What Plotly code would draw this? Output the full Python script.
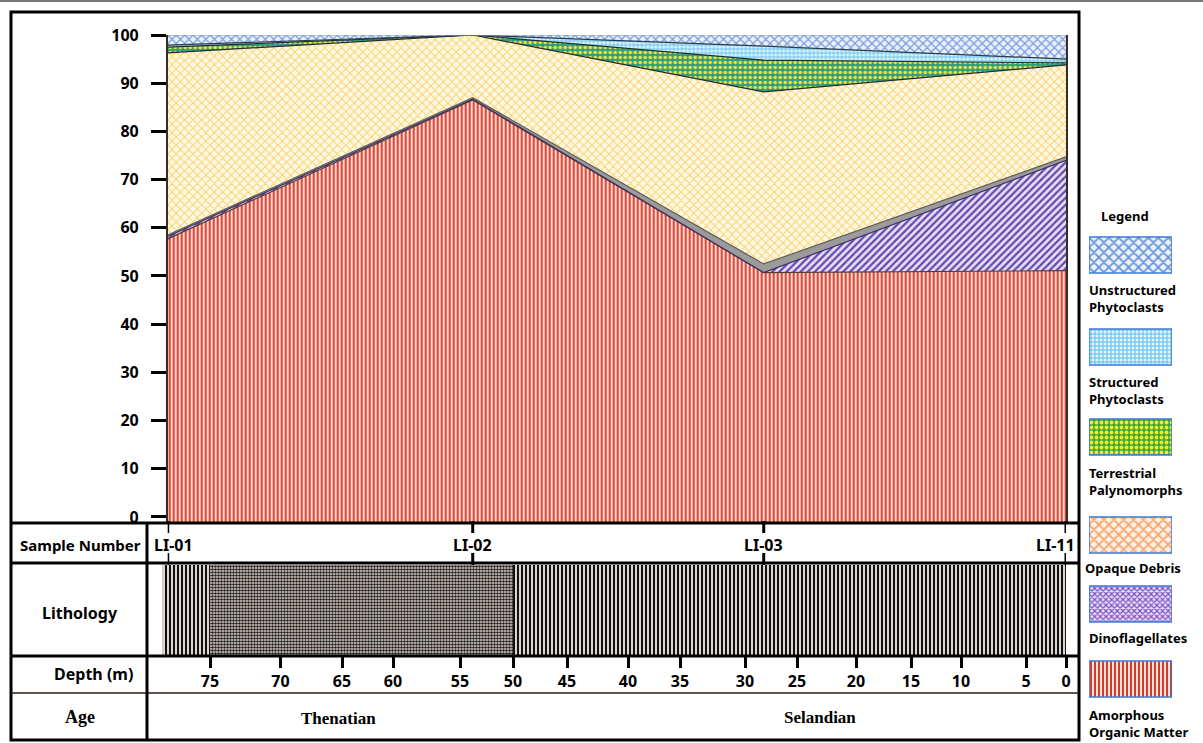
import numpy as np
import plotly.graph_objects as go

# ---------------- data ----------------
samples = ["LI-01", "LI-02", "LI-03", "LI-11"]
sample_depth = [78.0, 53.8, 28.2, 0.0]          # m

# percentages (bottom -> top of the stack)
aom          = [57.7, 86.5, 50.7, 51.1]   # Amorphous Organic Matter
dino         = [0.5, 0.2, 0.0, 22.9]      # Dinoflagellates
grey_band    = [0.3, 0.3, 1.8, 0.7]       # un-labelled grey layer
opaque       = [37.8, 13.0, 35.7, 19.1]   # Opaque Debris
terrestrial  = [1.2, 0.0, 6.6, 0.4]       # Terrestrial Palynomorphs
structured   = [0.4, 0.0, 2.9, 0.8]       # Structured Phytoclasts
unstructured = [2.1, 0.0, 2.3, 5.0]       # Unstructured Phytoclasts

y_ticks = list(range(0, 101, 10))

depth_labels = [75, 70, 65, 60, 55, 50, 45, 40, 35, 30, 25, 20, 15, 10, 5, 0]
# hand-drawn depth scale: position of each depth tick along the section
depth_scale  = [210, 280.5, 342, 393, 460, 513, 567, 628, 680, 745, 797, 856, 911, 961, 1026, 1066]

lith_top    = [78.35, 75.0, 50.0]
lith_bottom = [75.0, 50.0, 0.0]
lith_type   = ["Shale", "Sandstone", "Shale"]

ages = ["Thenatian", "Selandian"]

# ---------------- helpers ----------------
W, H = 1203, 743
def py(p):
    return 1 - p / H

dl = np.array(depth_labels[::-1], dtype=float)
ds = np.array(depth_scale[::-1], dtype=float)
slope_deep = (depth_scale[1] - depth_scale[0]) / (depth_labels[1] - depth_labels[0])

def pos(d):
    d = np.asarray(d, dtype=float)
    inside = np.interp(d, dl, ds)
    beyond = depth_scale[0] + (d - depth_labels[0]) * slope_deep
    return np.where(d > depth_labels[0], beyond, inside)

sx = pos(sample_depth)

fig = go.Figure()

FONT = "Noto Sans"
SERIF = "Liberation Serif"

# ---------------- stacked area chart ----------------
y_min = -1.04
layers = [
    ("Amorphous Organic Matter", aom, dict(shape="|", fgcolor="#d9493a", bgcolor="#fbd8cf", size=4, solidity=0.5), "#5a3a34"),
    ("Dinoflagellates", dino, dict(shape="/", fgcolor="#6248b0", bgcolor="#e6def5", size=5, solidity=0.45), "#3a2f60"),
    ("Grey layer", grey_band, None, "#5a5a5a"),
    ("Opaque Debris", opaque, dict(shape="x", fgcolor="#f8d672", bgcolor="#fff8e6", size=6, solidity=0.35), "#2a2a2a"),
    ("Terrestrial Palynomorphs", terrestrial, dict(shape=".", fgcolor="#efe23c", bgcolor="#2f9e80", size=5, solidity=0.4), "#1f2f2a"),
    ("Structured Phytoclasts", structured, dict(shape="+", fgcolor="#52bbe8", bgcolor="#dcf2fb", size=4, solidity=0.35), "#2a3a4a"),
    ("Unstructured Phytoclasts", unstructured, dict(shape="x", fgcolor="#7a9cdb", bgcolor="#ebf0fb", size=6, solidity=0.38), "#7a9cdb"),
]

fig.add_trace(go.Scatter(x=sx, y=[y_min] * len(sx), mode="lines",
                         line=dict(width=0), showlegend=False, hoverinfo="skip",
                         xaxis="x", yaxis="y"))
cum = np.zeros(len(samples))
for name, vals, pat, lc in layers:
    cum = cum + np.array(vals)
    kw = {}
    if pat is None:
        kw["fillcolor"] = "#9b9b9b"
    else:
        kw["fillcolor"] = pat["bgcolor"]
        kw["fillpattern"] = dict(fillmode="replace", **pat)
    fig.add_trace(go.Scatter(x=sx, y=np.round(cum, 3), mode="lines", name=name,
                             fill="tonexty", line=dict(color=lc, width=1.2),
                             showlegend=False, xaxis="x", yaxis="y", **kw))

# ---------------- lithology column ----------------
lith_pat = {
    "Shale": dict(shape="|", fgcolor="#111111", bgcolor="#f4ece8", size=4, solidity=0.55),
    "Sandstone": dict(shape=".", fgcolor="#1e1e1e", bgcolor="#ecdfd8", size=3, solidity=0.6),
}
l0 = pos(lith_top)
l1 = pos(lith_bottom)
for a, b, t in zip(l0, l1, lith_type):
    p = lith_pat[t]
    fig.add_trace(go.Bar(
        x=[(a + b) / 2], width=[b - a], y=[1], base=[0],
        marker=dict(color=p["bgcolor"], line=dict(width=0),
                    pattern=dict(fillmode="replace", **p)),
        showlegend=False, hoverinfo="skip", xaxis="x2", yaxis="y2"))

# ---------------- custom legend boxes ----------------
legend_items = ["Unstructured Phytoclasts", "Structured Phytoclasts", "Terrestrial Palynomorphs",
                "Opaque Debris", "Dinoflagellates", "Amorphous Organic Matter"]
legend_text = ["Unstructured<br>Phytoclasts", "Structured<br>Phytoclasts", "Terrestrial<br>Palynomorphs",
               "Opaque Debris", "Dinoflagellates", "Amorphous<br>Organic Matter"]
leg_pat = {
    "Unstructured Phytoclasts": dict(shape="x", fgcolor="#5d8ed8", bgcolor="#eef2fb", size=7, solidity=0.4),
    "Structured Phytoclasts": dict(shape="+", fgcolor="#4fb8ea", bgcolor="#e2f4fc", size=4, solidity=0.4),
    "Terrestrial Palynomorphs": dict(shape=".", fgcolor="#f2ea2a", bgcolor="#3aaa3a", size=5, solidity=0.45),
    "Opaque Debris": dict(shape="x", fgcolor="#f6a064", bgcolor="#fff1e6", size=7, solidity=0.4),
    "Dinoflagellates": dict(shape="x", fgcolor="#7a4fc0", bgcolor="#e8e0f6", size=4, solidity=0.5),
    "Amorphous Organic Matter": dict(shape="|", fgcolor="#d43c2c", bgcolor="#fbe4dc", size=4, solidity=0.5),
}
box_top = [237, 329, 419, 517, 586, 661]
box_h = 36
for k, t in zip(legend_items, box_top):
    p = leg_pat[k]
    fig.add_trace(go.Bar(
        x=[0.5], width=[1], base=[t], y=[box_h],
        marker=dict(color=p["bgcolor"], line=dict(color="#3d7ad6", width=1.5),
                    pattern=dict(fillmode="replace", **p)),
        showlegend=False, hoverinfo="skip", xaxis="x3", yaxis="y3"))

# ---------------- layout ----------------
tick_font = dict(family=FONT, size=16, color="black", weight="bold")
fig.update_layout(
    width=W, height=H, margin=dict(l=0, r=0, t=0, b=0, autoexpand=False),
    paper_bgcolor="white", plot_bgcolor="rgba(0,0,0,0)",
    barmode="overlay", showlegend=False,
    xaxis=dict(domain=[sx[0] / W, sx[-1] / W], range=[sx[0], sx[-1]], automargin=False,
               showgrid=False, zeroline=False, showticklabels=False, ticks=""),
    yaxis=dict(domain=[py(522), py(35)], range=[y_min, 100], tickvals=y_ticks, automargin=False,
               showgrid=False, zeroline=False, ticks="outside", ticklen=15, tickwidth=2.5,
               tickcolor="black", tickfont=tick_font, ticklabelstandoff=9,
               showline=True, linecolor="#3a2a25", linewidth=1.5, mirror=True),
    xaxis2=dict(domain=[148 / W, 1077 / W], range=[148, 1077], anchor="y2", automargin=False,
                showgrid=False, zeroline=False, tickvals=depth_scale,
                ticktext=[str(v) for v in depth_labels], ticks="outside", ticklen=12,
                tickwidth=3, tickcolor="black", tickfont=tick_font, showline=False),
    yaxis2=dict(domain=[py(655), py(565)], range=[0, 1], anchor="x2", automargin=False,
                showgrid=False, zeroline=False, showticklabels=False, ticks=""),
    xaxis3=dict(domain=[1089 / W, 1172 / W], range=[0, 1], anchor="y3", visible=False, automargin=False),
    yaxis3=dict(domain=[0, 1], range=[H, 0], anchor="x3", visible=False, automargin=False),
)

# ---------------- frame and table lines ----------------
shapes = []
def hline(yp, x0=11, x1=1079, w=3, c="black"):
    shapes.append(dict(type="line", xref="paper", yref="paper", x0=x0 / W, x1=x1 / W,
                       y0=py(yp), y1=py(yp), line=dict(color=c, width=w)))
def vline(xp, y0, y1, w=3, c="black"):
    shapes.append(dict(type="line", xref="paper", yref="paper", x0=xp / W, x1=xp / W,
                       y0=py(y0), y1=py(y1), line=dict(color=c, width=w)))

hline(1, 0, 1203, 2, "#777777")
shapes.append(dict(type="rect", xref="paper", yref="paper", x0=11 / W, x1=1079 / W,
                   y0=py(740), y1=py(12), line=dict(color="black", width=3)))
hline(523)
hline(563)
hline(656)
hline(693, w=1.5, c="#2a1a14")
vline(147, 523, 740)

for xv in sx:
    for a, b in [(521, 533), (553, 565)]:
        shapes.append(dict(type="line", xref="x", yref="paper", x0=xv, x1=xv,
                           y0=py(a), y1=py(b), line=dict(color="black", width=3)))
fig.update_layout(shapes=shapes)

# ---------------- text ----------------
ann = []
def text(x, y, s, size=16, fam=FONT, anchor="center", xref="paper", xshift=0):
    ann.append(dict(x=x if xref != "paper" else x / W, y=py(y), xref=xref, yref="paper",
                    text=s, showarrow=False, xanchor=anchor, yanchor="middle", xshift=xshift,
                    align="left" if anchor == "left" else "center",
                    font=dict(family=fam, size=size, color="black", weight="bold")))

text(80, 545, "Sample Number", 15)
text(80, 613, "Lithology", 16)
text(93, 674, "Depth (m)", 16)
text(80, 717, "Age", 18, SERIF)
for i, s in enumerate(samples):
    if i == len(samples) - 1:
        text(sx[i], 545, s, 16, anchor="right", xref="x", xshift=11)
    elif i == 0:
        text(sx[i], 545, s, 16, xref="x", xshift=6)
    else:
        text(sx[i], 545, s, 16, xref="x")
text(338, 718, ages[0], 17, SERIF)
text(820, 717, ages[1], 17, SERIF)

text(1125, 216, "Legend", 13)
label_y = [298, 390, 481, 568, 638, 723]
for t, yv in zip(legend_text, label_y):
    xa = 1083 if t == "Opaque Debris" else 1087
    text(xa, yv, t, 13, anchor="left")

fig.update_layout(annotations=ann)
fig.write_html("out.html", config={"displayModeBar": False},
               post_script="document.body.style.margin='0px';")
